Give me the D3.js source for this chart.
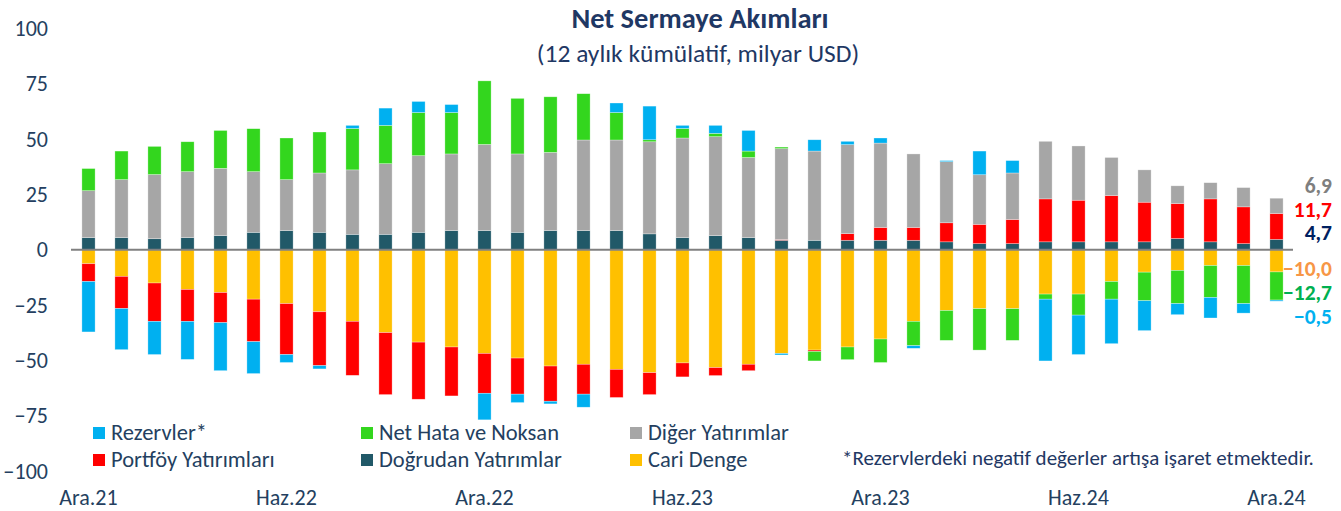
<!DOCTYPE html>
<html>
<head>
<meta charset="utf-8">
<script src="https://cdn.jsdelivr.net/npm/d3@7"></script>
<style>
  body{margin:0;background:#fff}
  svg{display:block;font-family:Carlito,Lato,"Liberation Sans",sans-serif}
</style>
</head>
<body>
<svg id="chart" width="1341" height="511"></svg>
<script>
const months = ['Ara.21',
  'Oca.22','Şub.22','Mar.22','Nis.22','May.22','Haz.22','Tem.22','Ağu.22','Eyl.22','Eki.22','Kas.22','Ara.22',
  'Oca.23','Şub.23','Mar.23','Nis.23','May.23','Haz.23','Tem.23','Ağu.23','Eyl.23','Eki.23','Kas.23','Ara.23',
  'Oca.24','Şub.24','Mar.24','Nis.24','May.24','Haz.24','Tem.24','Ağu.24','Eyl.24','Eki.24','Kas.24','Ara.24']
const tickLabels = ['Ara.21','Haz.22','Ara.22','Haz.23','Ara.23','Haz.24','Ara.24']

// milyar USD, 12 aylık kümülatif
const dogrudan = [5.5,5.5,5.0,5.5,6.4,7.9,8.7,7.9,7.0,7.0,7.9,8.7,8.7,7.9,8.7,8.7,8.7,7.2,5.5,6.4,5.5,4.3,4.3,4.3,4.3,4.3,3.6,2.8,2.8,3.6,3.6,3.6,3.6,5.1,3.6,2.8,4.7]
const portfoy  = [-8.0,-14.5,-17.3,-14.4,-13.6,-19.2,-23.0,-24.3,-24.4,-28.0,-25.8,-22.1,-18.0,-16.3,-15.9,-13.5,-12.7,-9.9,-6.3,-3.6,-2.9,0.3,-0.6,3.0,5.8,5.8,8.6,8.7,10.9,19.4,18.8,20.9,17.9,15.8,19.4,16.6,11.7]
const diger    = [21.2,26.2,29.0,29.8,30.4,27.4,23.0,26.8,29.1,31.9,34.6,34.6,38.9,35.4,35.3,40.9,40.9,41.6,45.0,44.7,36.2,41.1,40.3,40.2,38.1,33.2,27.6,22.4,21.0,26.0,24.5,17.2,14.6,8.0,7.3,8.7,6.9]
const netHata  = [10.0,12.9,12.7,13.5,17.1,19.4,18.8,18.5,18.7,17.3,19.5,18.7,28.7,25.1,25.1,20.9,12.4,0.9,4.3,1.5,2.9,0.7,-4.3,-5.7,-10.6,-11.0,-13.5,-18.7,-14.3,-2.3,-9.5,-8.0,-12.9,-15.0,-14.4,-17.2,-12.7]
const rezerv   = [-22.8,-18.6,-15.0,-17.2,-21.7,-14.4,-3.6,-1.5,1.4,7.8,5.0,3.6,-12.0,-3.8,-1.2,-5.9,4.3,15.2,1.4,3.6,9.3,-0.7,5.1,1.5,2.3,-1.2,0.5,10.7,5.6,-27.9,-17.8,-20.1,-13.5,-5.0,-9.3,-4.3,-0.5]
const cari     = [-6.3,-12.0,-15.0,-17.9,-19.3,-22.3,-24.3,-28.0,-32.3,-37.4,-41.7,-43.9,-46.8,-48.9,-52.5,-51.7,-54.0,-55.5,-51.1,-53.2,-51.7,-46.8,-45.3,-43.9,-40.3,-32.3,-27.4,-26.6,-26.6,-20.0,-20.0,-14.3,-10.1,-9.3,-7.1,-7.1,-10.0]

const keys = ['cari','dogrudan','portfoy','diger','netHata','rezerv']
const colors = {
  rezerv:'#00B0F0', netHata:'#33D61E', diger:'#A6A6A6',
  portfoy:'#FF0000', dogrudan:'#215968', cari:'#FFC000'
}
const legendItems = [
  {key:'rezerv',   name:'Rezervler*'},
  {key:'netHata',  name:'Net Hata ve Noksan'},
  {key:'diger',    name:'Diğer Yatırımlar'},
  {key:'portfoy',  name:'Portföy Yatırımları'},
  {key:'dogrudan', name:'Doğrudan Yatırımlar'},
  {key:'cari',     name:'Cari Denge'}
]
// son ay etiketleri, yukarıdan aşağıya
const lastPos = [{key:'diger',color:'#7F7F7F'},{key:'portfoy',color:'#FF0000'},{key:'dogrudan',color:'#002060'}]
const lastNeg = [{key:'cari',color:'#F79646'},{key:'netHata',color:'#00B050'},{key:'rezerv',color:'#00B0F0'}]

const txt = '#243F60'
const svg = d3.select('#chart')

const rows = months.map((m,i)=>({
  month:m, cari:cari[i], dogrudan:dogrudan[i], portfoy:portfoy[i],
  diger:diger[i], netHata:netHata[i], rezerv:rezerv[i]
}))
const series = d3.stack().keys(keys).offset(d3.stackOffsetDiverging)(rows)

const x = d3.scaleBand().domain(months).range([72,1293]).paddingInner(0.6).paddingOuter(0.3)
const y = d3.scaleLinear().domain([-100,100]).range([471.2,28.4])

svg.append('g')
  .selectAll('g')
  .data(series)
  .join('g')
    .attr('fill', d=>colors[d.key])
  .selectAll('rect')
  .data(d=>d)
  .join('rect')
    .attr('x', d=>x(d.data.month))
    .attr('y', d=>y(d[1]))
    .attr('width', x.bandwidth())
    .attr('height', d=>y(d[0])-y(d[1]))
    .attr('stroke','#fff')
    .attr('stroke-opacity',0.5)
    .attr('stroke-width',0.6)

// sıfır çizgisi
svg.append('line')
  .attr('x1', x.range()[0]-1).attr('x2', x.range()[1])
  .attr('y1', y(0)).attr('y2', y(0))
  .attr('stroke','#808080').attr('stroke-width',2)

const yAxis = svg.append('g')
  .attr('transform','translate(48,0)')
  .call(d3.axisLeft(y).tickValues(d3.range(-100,101,25)).tickSize(0).tickPadding(0))
yAxis.select('.domain').remove()
yAxis.selectAll('text')
  .attr('dy','0.32em')
  .style('font-size','22px')
  .style('font-family','Carlito,Lato,sans-serif')
  .attr('fill',txt)

const xAxis = svg.append('g')
  .attr('transform',`translate(0,${y(-100)})`)
  .call(d3.axisBottom(x).tickValues(tickLabels).tickSize(0).tickPadding(18))
xAxis.select('.domain').remove()
xAxis.selectAll('text')
  .style('font-size','22px')
  .style('font-family','Carlito,Lato,sans-serif')
  .attr('fill',txt)

// başlık
svg.append('text')
  .attr('x',700).attr('y',28)
  .attr('text-anchor','middle')
  .attr('font-size',28.5).attr('font-weight','bold')
  .attr('fill','#1F3864')
  .text('Net Sermaye Akımları')
svg.append('text')
  .attr('x',698).attr('y',61.5)
  .attr('text-anchor','middle')
  .attr('font-size',25.5)
  .attr('fill','#1F3864')
  .text('(12 aylık kümülatif, milyar USD)')

// lejant
const colX = [93,361,630], rowY = [427,454]
const lg = svg.append('g')
  .selectAll('g')
  .data(legendItems)
  .join('g')
    .attr('transform',(d,i)=>`translate(${colX[i%3]},${rowY[Math.floor(i/3)]})`)
lg.append('rect')
  .attr('width',12).attr('height',12)
  .attr('fill',d=>colors[d.key])
lg.append('text')
  .attr('x',18).attr('y',13)
  .attr('font-size',22.5)
  .attr('fill',txt)
  .text(d=>d.name)

svg.append('text')
  .attr('x',842).attr('y',465)
  .attr('font-size',21)
  .attr('fill','#1F3864')
  .text('*Rezervlerdeki negatif değerler artışa işaret etmektedir.')

// son değer etiketleri
const fmt = v=>d3.format('.1f')(v).replace('.',',')
const last = rows[rows.length-1]
const lab = svg.append('g')
  .attr('text-anchor','end')
  .attr('font-size',21.5)
  .attr('font-weight','bold')
lab.selectAll('text.pos')
  .data(lastPos)
  .join('text')
    .attr('class','pos')
    .attr('x',1332)
    .attr('y',(d,i)=>y(0)-9.5-23.5*(lastPos.length-1-i))
    .attr('fill',d=>d.color)
    .text(d=>fmt(last[d.key]))
lab.selectAll('text.neg')
  .data(lastNeg)
  .join('text')
    .attr('class','neg')
    .attr('x',1332)
    .attr('y',(d,i)=>y(0)+26+24.2*i)
    .attr('fill',d=>d.color)
    .text(d=>fmt(last[d.key]))
</script>
</body>
</html>
